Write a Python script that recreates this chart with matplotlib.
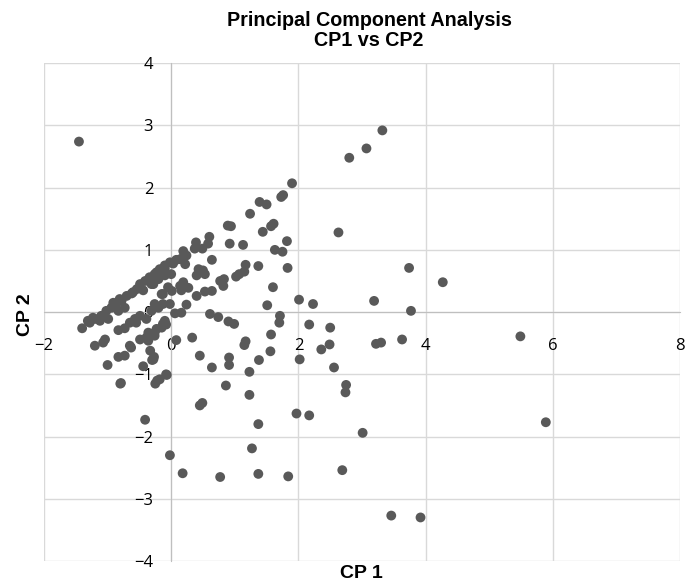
import matplotlib
matplotlib.use("Agg")
import matplotlib.pyplot as plt
import numpy as np

# scores CP1 / CP2
cp1 = [
    -1.45, 3.32, 3.07, 2.80, 1.90, 1.73, 1.76, 1.39, 1.50, 1.24, 1.61, 1.57, 1.44, 2.63,
    0.94, 0.89, 0.92, 1.13, 1.82, 1.63, 1.75, 1.17, 1.15, 1.02, 1.37, 1.83, 1.60, 1.51,
    2.01, 2.23, 3.19, 3.74, 4.27, 3.77, 1.71, 1.70, 0.99, 0.90, 2.17, 2.50, 1.57, 1.17,
    1.15, 2.49, 2.36, 3.22, 3.30, 3.63, 1.56, 2.02, 1.38, 0.91, 0.91, 1.23, 2.56, 2.75,
    2.74, 1.23, 1.97, 2.17, 1.37, 3.01, 1.27, 1.37, 1.84, 2.69, 3.46, 3.92, 5.49, 5.89,
    -0.80, -0.25, -0.22, 0.86, 0.45, 0.49, -0.41, -0.02, 0.18, 0.77,
    # central cluster
    0.60, 0.58, 0.39, 0.37, 0.49, 0.19, 0.08, 0.03, 0.19, 0.22, 0.64, 0.43, 0.50, 0.40,
    0.53, 0.77, 0.83, 1.07, 0.64, 0.53, 0.40, 0.19, 0.16, 0.01, -0.13, -0.13, -0.23,
    -0.10, -0.28, -0.28, 0.27, 0.14, 0.82, 0.24, 0.14,
    0.06, 0.16, 0.61, 0.74, 0.24, -0.02, -0.10, -0.13, -0.23, -0.36, 0.08, 0.33, 0.45,
    0.64, -0.08, -0.28, -0.33,
    # upper band
    -1.40, -1.28, -1.20, -1.10, -1.02, -0.94, -0.86, -0.78, -0.70, -0.62, -0.54, -0.49,
    -0.41, -0.34, -0.26, -0.18, -0.10, -0.02, -0.44, -0.31, -0.20, -0.10, 0.00, -0.15,
    -0.05, -0.73, -0.83, -0.99, -1.12, -1.31, -1.23, -0.91, -0.81, -0.60,
    # middle band
    -0.83, -0.73, -0.65, -0.57, -0.49, -0.31, -0.20, -0.13, -0.55, -0.39, -0.26, -0.08,
    # lower band
    -1.20, -1.04, -0.65, -0.49, -0.36, -0.26, -0.15, -0.10, -1.07, -1.00, -0.83, -0.73,
    -0.63, -0.79, -0.39, -0.26, -0.44, -0.30, -0.27, -0.18, -0.07,
]
cp2 = [
    2.74, 2.92, 2.63, 2.48, 2.07, 1.85, 1.88, 1.77, 1.73, 1.58, 1.42, 1.38, 1.29, 1.28,
    1.38, 1.39, 1.10, 1.08, 1.14, 1.00, 0.97, 0.76, 0.65, 0.57, 0.74, 0.71, 0.40, 0.11,
    0.20, 0.13, 0.18, 0.71, 0.48, 0.02, -0.06, -0.17, -0.19, -0.15, -0.20, -0.25, -0.36, -0.47,
    -0.53, -0.52, -0.60, -0.51, -0.49, -0.44, -0.63, -0.76, -0.77, -0.73, -0.85, -0.96, -0.89, -1.17,
    -1.29, -1.33, -1.63, -1.66, -1.80, -1.94, -2.19, -2.60, -2.64, -2.54, -3.27, -3.30, -0.39, -1.77,
    -1.15, -1.15, -1.10, -1.18, -1.50, -1.46, -1.73, -2.30, -2.59, -2.65,
    # central cluster
    1.21, 1.10, 1.12, 1.02, 1.02, 0.98, 0.84, 0.78, 0.88, 0.77, 0.84, 0.69, 0.67, 0.59,
    0.61, 0.50, 0.53, 0.61, 0.34, 0.33, 0.26, 0.48, 0.35, 0.34, 0.29, 0.67, 0.64,
    0.70, 0.55, 0.45, 0.39, 0.42, 0.42, 0.91, 0.85,
    -0.02, -0.01, -0.03, -0.08, 0.12, 0.13, -0.17, -0.19, -0.27, -0.33, -0.45, -0.41, -0.70,
    -0.89, -1.00, -0.76, -0.62,
    # upper band
    -0.26, -0.17, -0.11, -0.06, 0.02, 0.07, 0.14, 0.18, 0.26, 0.30, 0.37, 0.45,
    0.50, 0.56, 0.61, 0.69, 0.75, 0.80, 0.35, 0.45, 0.53, 0.59, 0.61, 0.29,
    0.40, 0.07, 0.02, -0.11, -0.14, -0.14, -0.09, 0.15, 0.21, 0.32,
    # middle band
    -0.29, -0.26, -0.17, -0.11, -0.06, 0.02, 0.07, 0.13, -0.17, -0.11, 0.13, -0.20,
    # lower band
    -0.54, -0.44, -0.54, -0.44, -0.46, -0.33, -0.25, -0.14, -0.49, -0.85, -0.72, -0.70,
    -0.57, -1.14, -0.41, -0.38, -0.87, -0.77, -0.72, -1.08, -1.01,
]

x_ticks = [-2, 0, 2, 4, 6, 8]
y_ticks = [-4, -3, -2, -1, 0, 1, 2, 3, 4]

plt.rcParams['font.family'] = ['Open Sans', 'DejaVu Sans']

fig = plt.figure(figsize=(6.86, 5.85), dpi=100)
ax = fig.add_axes([0.0641, 0.041, 0.9272, 0.851])

ax.scatter(cp1, cp2, s=50, color='#595959', edgecolors='none', zorder=3)

ax.set_xlim(-2, 8)
ax.set_ylim(-4, 4)
ax.set_xticks(x_ticks)
ax.set_yticks(y_ticks)
ax.grid(True, color='#d9d9d9', linewidth=1.0, zorder=0)

for s in ['top', 'right']:
    ax.spines[s].set_visible(False)
ax.spines['left'].set_position(('data', 0))
ax.spines['bottom'].set_position(('data', 0))
ax.spines['left'].set_color('#bfbfbf')
ax.spines['bottom'].set_color('#bfbfbf')
ax.tick_params(axis='both', length=0, labelsize=12, labelcolor='black')
ax.tick_params(axis='y', pad=13)
ax.tick_params(axis='x', pad=19)

fig.text(0.538, 0.948, 'Principal Component Analysis\nCP1 vs CP2',
         ha='center', va='center', fontsize=14.2, fontweight='bold',
         family='Liberation Sans', linespacing=1.05)
fig.text(0.527, 0.019, 'CP 1', ha='center', va='center', fontsize=14,
         fontweight='bold', family='Liberation Sans')
fig.text(0.037, 0.462, 'CP 2', ha='center', va='center', rotation=90, fontsize=14,
         fontweight='bold', family='Liberation Sans')

fig.savefig('out.png', dpi=100)
